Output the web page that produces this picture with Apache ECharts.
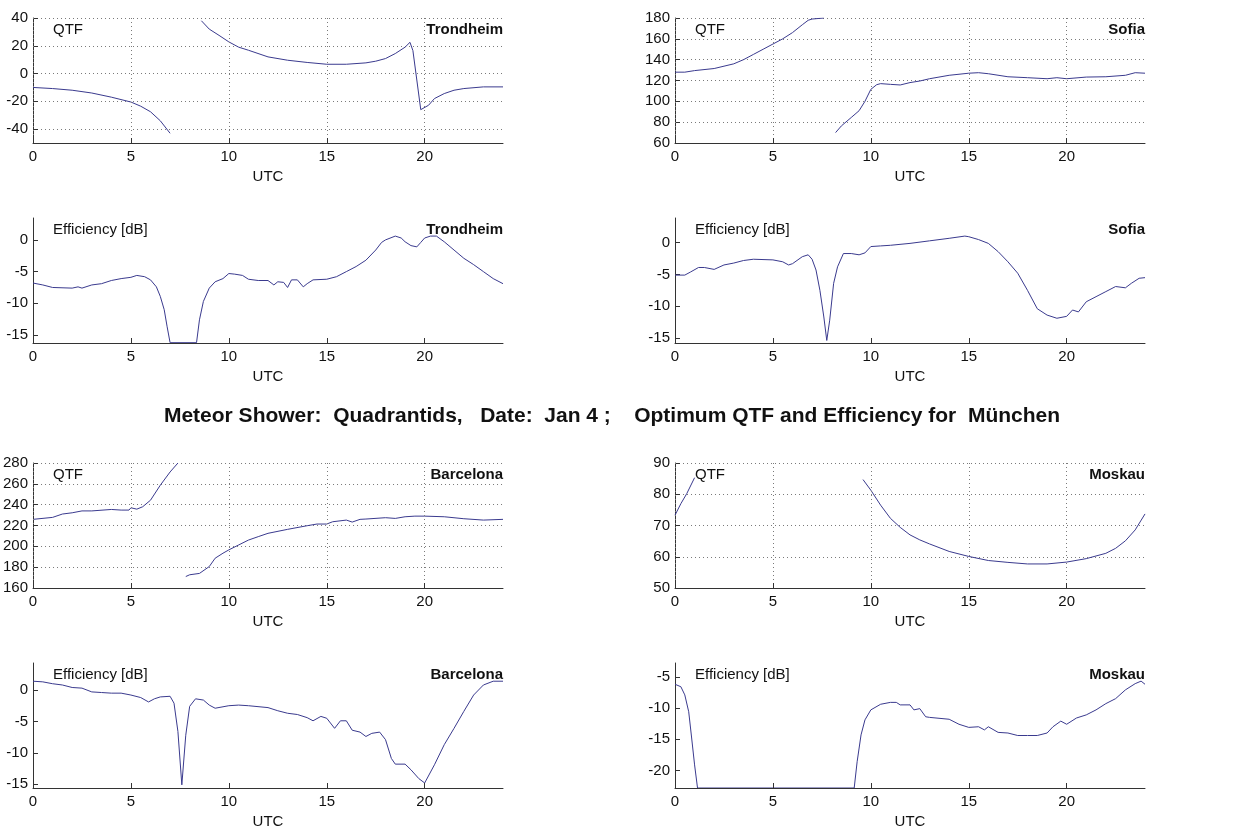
<!DOCTYPE html>
<html>
<head>
<meta charset="utf-8">
<script src="https://cdn.jsdelivr.net/npm/echarts@6/dist/echarts.min.js"></script>
<style>
html,body{margin:0;padding:0;background:#fff;}
#chart{width:1260px;height:834px;}
</style>
</head>
<body>
<div id="chart"></div>
<script>
// ---------- DATA (UTC hour, value) ----------
const utcTicks = [0, 5, 10, 15, 20];

const trondheimQtf = [[0,-10],[1,-10.8],[2,-12],[3,-14],[4,-17],[5,-20.5],[5.5,-23.5],[6,-27.5],[6.5,-34],[7,-43],[7.8,null],
  [8.6,38],[9,32],[9.5,27.5],[10,22.8],[10.5,19],[11,16.8],[12,12],[13,9.6],[14,8],[15,6.7],[16,6.7],[17,7.7],[17.5,8.9],
  [18,10.8],[18.5,14.4],[19,19],[19.25,22.5],[19.4,16.5],[19.8,-26],[20.2,-22.8],[20.5,-18],[21,-14.4],[21.5,-12],[22,-10.8],[23,-9.6],[24,-9.6]];
const trondheimQtfTicks = [-40, -20, 0, 20, 40];

const sofiaQtf = [[0,128],[0.5,128],[1,129.5],[2,131.5],[3,136],[3.5,140],[4,145],[4.5,150],[5,155],[5.5,160],[6,166],[6.5,173.5],
  [6.8,177.8],[7,179],[7.6,180],[7.9,null],[8.2,70],[8.5,76.5],[9,84.5],[9.4,91],[9.7,100],[10,111.5],[10.3,116],[10.5,117],
  [11,116.3],[11.5,115.7],[12,118],[12.5,119.5],[13,121.7],[14,125],[15,127],[15.5,127.5],[16,126.5],[17,123.6],[18,122.7],
  [19,121.7],[19.5,122.7],[20,121.7],[21,123.3],[22,123.6],[23,125],[23.5,127.5],[24,127]];
const sofiaQtfTicks = [60, 80, 100, 120, 140, 160, 180];

const trondheimEff = [[0,-6.8],[0.5,-7.1],[1,-7.5],[2,-7.6],[2.3,-7.4],[2.5,-7.6],[3,-7.1],[3.5,-6.9],[4,-6.4],[4.5,-6.1],[5,-5.9],
  [5.3,-5.6],[5.7,-5.8],[6,-6.3],[6.3,-7.4],[6.5,-8.9],[6.7,-11],[6.85,-13.7],[7,-16.2],[8.35,-16.2],[8.5,-12.6],[8.7,-9.7],
  [9,-7.6],[9.3,-6.6],[9.7,-6.1],[10,-5.3],[10.3,-5.4],[10.7,-5.6],[11,-6.2],[11.5,-6.4],[12,-6.4],[12.3,-7.1],[12.5,-6.6],
  [12.8,-6.7],[13,-7.5],[13.2,-6.3],[13.5,-6.3],[13.8,-7.4],[14,-6.9],[14.3,-6.3],[15,-6.2],[15.5,-5.8],[16,-5],[16.5,-4.2],
  [17,-3.2],[17.5,-1.6],[17.8,-0.4],[18,0],[18.5,0.6],[18.8,0.3],[19,-0.3],[19.3,-0.9],[19.6,-1.1],[19.8,-0.4],[20,0.3],
  [20.3,0.6],[20.6,0.6],[21,-0.3],[21.5,-1.6],[22,-2.9],[22.5,-3.9],[23,-5],[23.5,-6.1],[24,-6.9]];
const trondheimEffTicks = [-15, -10, -5, 0];

const sofiaEff = [[0,-5.1],[0.5,-5.1],[0.8,-4.6],[1.2,-3.9],[1.5,-3.9],[2,-4.2],[2.5,-3.5],[3,-3.2],[3.5,-2.8],[4,-2.6],[5,-2.7],
  [5.5,-3.0],[5.8,-3.5],[6,-3.3],[6.5,-2.2],[6.8,-1.9],[7,-2.6],[7.2,-4.3],[7.4,-7.5],[7.6,-11.7],[7.75,-15.4],[7.9,-12.2],
  [8.1,-6.4],[8.3,-3.8],[8.6,-1.7],[9,-1.7],[9.4,-1.9],[9.7,-1.6],[10,-0.6],[10.5,-0.5],[11,-0.4],[12,-0.1],[13,0.3],[14,0.7],
  [14.8,1.05],[15,0.95],[15.5,0.5],[16,-0.1],[16.5,-1.4],[17,-3],[17.5,-4.8],[18,-7.5],[18.5,-10.4],[19,-11.4],[19.5,-11.9],
  [20,-11.6],[20.3,-10.6],[20.6,-10.9],[21,-9.3],[21.5,-8.5],[22,-7.7],[22.5,-6.9],[23,-7.1],[23.3,-6.4],[23.7,-5.6],[24,-5.5]];
const sofiaEffTicks = [-15, -10, -5, 0];

const barcelonaQtf = [[0,225.9],[1,227.8],[1.5,231],[2,232.2],[2.5,234],[3,234],[4,235.4],[4.5,234.8],[4.9,234.8],[5,237],
  [5.3,235.7],[5.6,238],[6,244.3],[6.5,258.7],[7,271.4],[7.4,280],[7.6,null],[7.8,171],[8,172.7],[8.5,174],[9,180.6],[9.3,188.6],
  [9.7,193.4],[10,196.6],[10.5,201.3],[11,206],[11.5,209.3],[12,212.5],[13,216.3],[14,219.8],[14.5,221.4],[15,221.4],[15.3,223.6],
  [16,225.2],[16.3,223.3],[16.7,225.9],[17,226.2],[18,227.5],[18.5,226.8],[19,228.4],[19.5,229],[20,229],[21,228.4],[22,226.5],
  [23,225.2],[24,225.9]];
const barcelonaQtfTicks = [160, 180, 200, 220, 240, 260, 280];

const moskauQtf = [[0,73.3],[0.3,77],[0.6,80.2],[1,85.3],[5,null],[9.6,84.7],[10,81.3],[10.5,76.5],[11,72.3],[11.5,69.4],[12,67],
  [12.5,65.4],[13,64.1],[14,61.7],[15,60.1],[16,58.8],[17,58.2],[18,57.7],[19,57.7],[20,58.3],[21,59.4],[22,61.1],[22.5,62.7],
  [23,65.1],[23.5,68.6],[24,73.7]];
const moskauQtfTicks = [50, 60, 70, 80, 90];

const barcelonaEff = [[0,1.4],[0.5,1.3],[1,1.0],[1.5,0.8],[2,0.4],[2.5,0.3],[3,-0.3],[3.5,-0.4],[4,-0.5],[4.5,-0.5],[5,-0.8],
  [5.5,-1.2],[5.9,-1.9],[6.2,-1.4],[6.5,-1.1],[7,-1.0],[7.2,-2.1],[7.4,-6.6],[7.6,-15.1],[7.8,-7.2],[8,-2.6],[8.3,-1.4],
  [8.7,-1.6],[9,-2.4],[9.3,-2.9],[10,-2.5],[10.5,-2.4],[11,-2.5],[12,-2.8],[12.5,-3.3],[13,-3.7],[13.5,-3.9],[14,-4.4],
  [14.3,-4.9],[14.7,-4.2],[15,-4.5],[15.4,-6.1],[15.7,-4.9],[16,-4.9],[16.3,-6.4],[16.7,-6.7],[17,-7.4],[17.3,-6.9],[17.7,-6.7],
  [18,-7.9],[18.3,-10.9],[18.5,-11.8],[19,-11.8],[19.3,-12.7],[19.7,-14.1],[20,-14.8],[20.5,-11.9],[21,-8.7],[21.5,-6.1],
  [22,-3.4],[22.5,-0.8],[23,0.8],[23.5,1.4],[24,1.4]];
const barcelonaEffTicks = [-15, -10, -5, 0];

const moskauEff = [[0,-6.2],[0.3,-6.6],[0.5,-7.9],[0.7,-10.6],[0.85,-14.8],[1.0,-19.1],[1.15,-22.8],[9.15,-22.8],[9.3,-18.6],
  [9.5,-14.3],[9.7,-11.9],[10,-10.3],[10.5,-9.4],[11,-9.1],[11.3,-9.1],[11.5,-9.5],[12,-9.5],[12.2,-10.3],[12.5,-10.1],
  [12.8,-11.4],[13,-11.5],[14,-11.8],[14.5,-12.6],[15,-13.1],[15.5,-13],[15.8,-13.5],[16,-13],[16.5,-13.9],[17,-14],
  [17.5,-14.4],[18,-14.4],[18.5,-14.4],[19,-14],[19.3,-13],[19.7,-12.1],[20,-12.6],[20.5,-11.6],[21,-11.1],[21.5,-10.3],
  [22,-9.3],[22.5,-8.5],[23,-7.1],[23.5,-6.1],[23.8,-5.7],[24,-6.2]];
const moskauEffTicks = [-20, -15, -10, -5];

const mainTitle = 'Meteor Shower:  Quadrantids,   Date:  Jan 4 ;    Optimum QTF and Efficiency for  München';

// ---------- PANELS ----------
const panels = [
  {data: trondheimQtf, ticks: trondheimQtfTicks, min: -50,   max: 40,   kind: 'QTF', city: 'Trondheim'},
  {data: sofiaQtf,     ticks: sofiaQtfTicks,     min: 60,    max: 180,  kind: 'QTF', city: 'Sofia'},
  {data: trondheimEff, ticks: trondheimEffTicks, min: -16.25,max: 3.45, kind: 'EFF', city: 'Trondheim'},
  {data: sofiaEff,     ticks: sofiaEffTicks,     min: -15.8, max: 3.9,  kind: 'EFF', city: 'Sofia'},
  {data: barcelonaQtf, ticks: barcelonaQtfTicks, min: 160,   max: 280,  kind: 'QTF', city: 'Barcelona'},
  {data: moskauQtf,    ticks: moskauQtfTicks,    min: 50,    max: 90,   kind: 'QTF', city: 'Moskau'},
  {data: barcelonaEff, ticks: barcelonaEffTicks, min: -15.6, max: 4.3,  kind: 'EFF', city: 'Barcelona'},
  {data: moskauEff,    ticks: moskauEffTicks,    min: -22.8, max: -2.8, kind: 'EFF', city: 'Moskau'}
];

// layout
const colLeft = [33, 675];
const rowTop = [18, 218, 463, 663];
const gw = 470, gh = 125;

const FONT = 'Liberation Sans, Arial, Helvetica, sans-serif';
const lineColor = '#3a3a8e';
const axisColor = '#333';
const gridStyle = {color: '#7a7a7a', width: 1, type: [1, 3]};

const grids = [], xAxes = [], yAxes = [], series = [], graphics = [];
panels.forEach((p, i) => {
  const left = colLeft[i % 2], top = rowTop[Math.floor(i / 2)];
  const isQ = p.kind === 'QTF';
  grids.push({left: left, top: top, width: gw, height: gh, containLabel: false});
  xAxes.push({
    type: 'value', gridIndex: i, min: 0, max: 24, z: 5,
    name: 'UTC', nameLocation: 'middle', nameGap: 26,
    nameTextStyle: {fontFamily: FONT, fontSize: 15, color: '#111'},
    axisLine: {show: true, onZero: false, lineStyle: {color: axisColor, width: 1}},
    axisTick: {show: true, inside: true, length: 5, customValues: utcTicks, lineStyle: {color: axisColor}},
    axisLabel: {show: true, margin: 6, customValues: utcTicks, fontFamily: FONT, fontSize: 15, color: '#111'},
    splitLine: {show: isQ, lineStyle: gridStyle}
  });
  yAxes.push({
    type: 'value', gridIndex: i, min: p.min, max: p.max,
    axisLine: {show: true, onZero: false, lineStyle: {color: axisColor, width: 1}},
    axisTick: {show: true, inside: true, length: 5, customValues: p.ticks, lineStyle: {color: axisColor}},
    axisLabel: {show: true, margin: 5, customValues: p.ticks, fontFamily: FONT, fontSize: 15, color: '#111'},
    splitLine: {show: isQ, lineStyle: gridStyle}
  });
  series.push({
    type: 'line', xAxisIndex: i, yAxisIndex: i, data: p.data, z: 2,
    showSymbol: false, symbol: 'none', connectNulls: false, clip: true,
    lineStyle: {color: lineColor, width: 1}, itemStyle: {color: lineColor},
    silent: true, animation: false
  });
  graphics.push({
    type: 'text', left: left + 20, top: top + 4, silent: true,
    style: {text: isQ ? 'QTF' : 'Efficiency [dB]', font: '15px ' + FONT, fill: '#111'}
  });
  graphics.push({
    type: 'text', right: 1260 - (left + gw), top: top + 4, silent: true,
    style: {text: p.city, font: 'bold 15px ' + FONT, fill: '#111'}
  });
});

graphics.push({
  type: 'text', x: 612, y: 416, silent: true,
  style: {text: mainTitle, font: 'bold 21px ' + FONT, fill: '#111', align: 'center', verticalAlign: 'middle'}
});

const chart = echarts.init(document.getElementById('chart'), null, {renderer: 'canvas'});
chart.setOption({
  animation: false,
  backgroundColor: '#fff',
  grid: grids, xAxis: xAxes, yAxis: yAxes, series: series,
  graphic: graphics
});
</script>
</body>
</html>
